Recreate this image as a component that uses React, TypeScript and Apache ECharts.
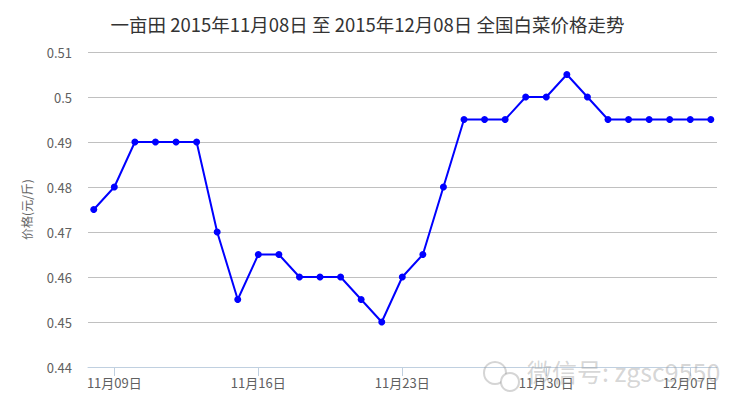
import React, { useEffect, useRef } from "react";
import * as echarts from "echarts";

const titleText = "一亩田 2015年11月08日 至 2015年12月08日 全国白菜价格走势";
const yAxisName = "价格(元/斤)";
const dates = [
  "11月08日", "11月09日", "11月10日", "11月11日", "11月12日", "11月13日", "11月14日",
  "11月15日", "11月16日", "11月17日", "11月18日", "11月19日", "11月20日", "11月21日",
  "11月22日", "11月23日", "11月24日", "11月25日", "11月26日", "11月27日", "11月28日",
  "11月29日", "11月30日", "12月01日", "12月02日", "12月03日", "12月04日", "12月05日",
  "12月06日", "12月07日", "12月08日",
];
const prices = [
  0.475, 0.48, 0.49, 0.49, 0.49, 0.49, 0.47,
  0.455, 0.465, 0.465, 0.46, 0.46, 0.46, 0.455,
  0.45, 0.46, 0.465, 0.48, 0.495, 0.495, 0.495,
  0.5, 0.5, 0.505, 0.5, 0.495, 0.495, 0.495,
  0.495, 0.495, 0.495,
];
const labelDates = ["11月09日", "11月16日", "11月23日", "11月30日", "12月07日"];
const yMin = 0.44;
const yMax = 0.51;
const yStep = 0.01;
const watermark = "微信号: zgsc9550";

export default function App() {
  const ref = useRef<HTMLDivElement>(null);
  useEffect(() => {
    document.body.style.margin = "0";
    if (!ref.current) return;
    const chart = echarts.init(ref.current, undefined, { renderer: "svg" });
    const tickIdx = labelDates.map((d) => dates.indexOf(d));
    const font = "'Noto Sans CJK SC', 'Noto Sans', sans-serif";
    chart.setOption({
      animation: false,
      title: {
        text: titleText,
        left: "center",
        top: 10,
        textStyle: { fontSize: 18.5, fontWeight: "normal", color: "#333", fontFamily: font },
      },
      grid: { left: 88, right: 18, top: 52, bottom: 48, containLabel: false },
      xAxis: {
        type: "value",
        min: -0.28,
        max: 30.3,
        axisLine: { show: true, lineStyle: { color: "#C0D0E0", width: 1 } },
        axisTick: { show: true, length: 9, lineStyle: { color: "#C0D0E0" }, customValues: tickIdx },
        axisLabel: {
          customValues: tickIdx,
          formatter: (v: number) => dates[Math.round(v)] ?? "",
          color: "#606060",
          fontSize: 13,
          margin: 9,
          fontFamily: font,
        },
        splitLine: { show: false },
      },
      yAxis: {
        type: "value",
        min: yMin,
        max: yMax,
        interval: yStep,
        name: yAxisName,
        nameLocation: "middle",
        nameGap: 56,
        nameRotate: 90,
        nameTextStyle: { color: "#666", fontSize: 12, fontFamily: font },
        axisLine: { show: false },
        axisTick: { show: false },
        axisLabel: {
          color: "#606060",
          fontSize: 13,
          margin: 16,
          fontFamily: font,
          formatter: (v: number) => String(parseFloat(v.toFixed(3))),
        },
        splitLine: { lineStyle: { color: "#C0C0C0", width: 1 } },
      },
      series: [
        {
          type: "line",
          data: prices.map((p, i) => [i, p]),
          symbol: "circle",
          symbolSize: 7,
          lineStyle: { color: "#0000FF", width: 2 },
          itemStyle: { color: "#0000FF" },
        },
      ],
      graphic: [
        {
          type: "text",
          left: 527,
          top: 358,
          z: 100,
          style: {
            text: watermark,
            fontSize: 25,
            fill: "rgba(150,150,150,0.4)",
            fontFamily: font,
          },
        },
        {
          type: "circle",
          shape: { cx: 495, cy: 373, r: 11 },
          z: 100,
          style: { fill: "none", stroke: "rgba(150,150,150,0.4)", lineWidth: 2 },
        },
        {
          type: "circle",
          shape: { cx: 510, cy: 382, r: 9 },
          z: 100,
          style: { fill: "#fff", stroke: "rgba(150,150,150,0.4)", lineWidth: 2 },
        },
      ],
    });
    return () => chart.dispose();
  }, []);
  return <div ref={ref} style={{ width: 735, height: 415 }} />;
}
